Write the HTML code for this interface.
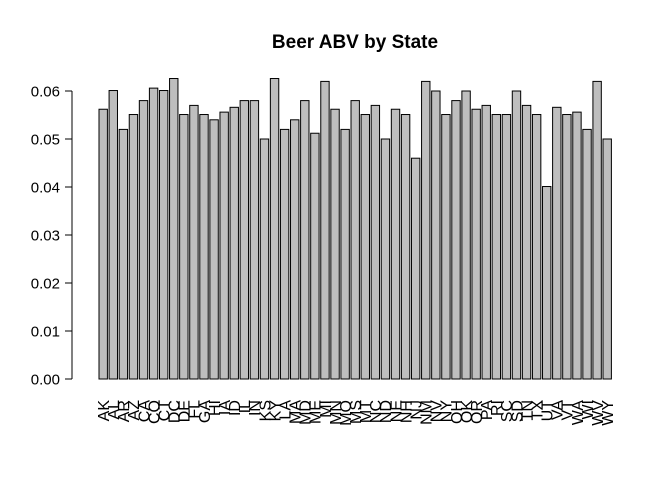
<!DOCTYPE html>
<html><head><meta charset="utf-8"><style>
html,body{margin:0;padding:0;background:#fff;}
svg{display:block;font-family:"Liberation Sans",Arial,sans-serif;}
</style></head><body>
<svg id="chart" width="672" height="480" viewBox="0 0 672 480">
<text x="355" y="48" text-anchor="middle" font-size="19" font-weight="bold">Beer ABV by State</text>
<g id="yaxis"></g>
<g id="bars"></g>
<g id="xlabels"></g>
</svg>
<script>
const states = ["AK","AL","AR","AZ","CA","CO","CT","DC","DE","FL","GA","HI","IA","ID","IL","IN","KS","KY","LA","MA","MD","ME","MI","MN","MO","MS","MT","NC","ND","NE","NH","NJ","NM","NV","NY","OH","OK","OR","PA","RI","SC","SD","TN","TX","UT","VA","VT","WA","WI","WV","WY"];
const abv = [0.0562,0.0601,0.052,0.0551,0.058,0.0606,0.0601,0.0626,0.0551,0.057,0.0551,0.054,0.0556,0.0566,0.058,0.058,0.050,0.0626,0.052,0.054,0.058,0.0512,0.062,0.0562,0.052,0.058,0.0551,0.057,0.050,0.0562,0.0551,0.046,0.062,0.060,0.0551,0.058,0.060,0.0562,0.057,0.0551,0.0551,0.060,0.057,0.0551,0.0401,0.0566,0.0551,0.0556,0.052,0.062,0.050];
const yTicks = ["0.00","0.01","0.02","0.03","0.04","0.05","0.06"];
const NS="http://www.w3.org/2000/svg";
const y0=379, pxPer=4800;
function yScale(v){return y0 - v*pxPer;}
function xScale(i){return 99 + i*10.08;}
const bw=8.4;
const yaxis=document.getElementById('yaxis');
const axLine=document.createElementNS(NS,'line');
axLine.setAttribute('x1',72);axLine.setAttribute('x2',72);
axLine.setAttribute('y1',yScale(0));axLine.setAttribute('y2',yScale(parseFloat(yTicks[yTicks.length-1])));
axLine.setAttribute('stroke','#000');


yaxis.appendChild(axLine);
yTicks.forEach(t=>{
  const y=yScale(parseFloat(t));
  const tk=document.createElementNS(NS,'line');
  tk.setAttribute('x1',65);tk.setAttribute('x2',72);tk.setAttribute('y1',y);tk.setAttribute('y2',y);tk.setAttribute('stroke','#000');
  
  
  yaxis.appendChild(tk);
  const tx=document.createElementNS(NS,'text');
  tx.setAttribute('x',60);tx.setAttribute('y',y+5.5);tx.setAttribute('text-anchor','end');tx.setAttribute('font-size','15');
  tx.textContent=t;
  
  
  yaxis.appendChild(tx);
});
const bars=document.getElementById('bars'), xl=document.getElementById('xlabels');
abv.forEach((v,i)=>{
  const r=document.createElementNS(NS,'rect');
  const x=xScale(i), y=yScale(v);
  r.setAttribute('x',x);r.setAttribute('y',y);r.setAttribute('width',bw);r.setAttribute('height',yScale(0)-y);
  r.setAttribute('fill','#bebebe');r.setAttribute('stroke','#000');r.setAttribute('stroke-width','1');
  
  
  bars.appendChild(r);
  const t=document.createElementNS(NS,'text');
  const cx=x+bw/2+5.8, ty=400;
  t.setAttribute('x',cx);t.setAttribute('y',ty);t.setAttribute('text-anchor','end');t.setAttribute('font-size','16');
  t.setAttribute('transform','rotate(-90 '+cx+' '+ty+')');
  t.textContent=states[i];
  
  
  xl.appendChild(t);
});
</script>
</body></html>
